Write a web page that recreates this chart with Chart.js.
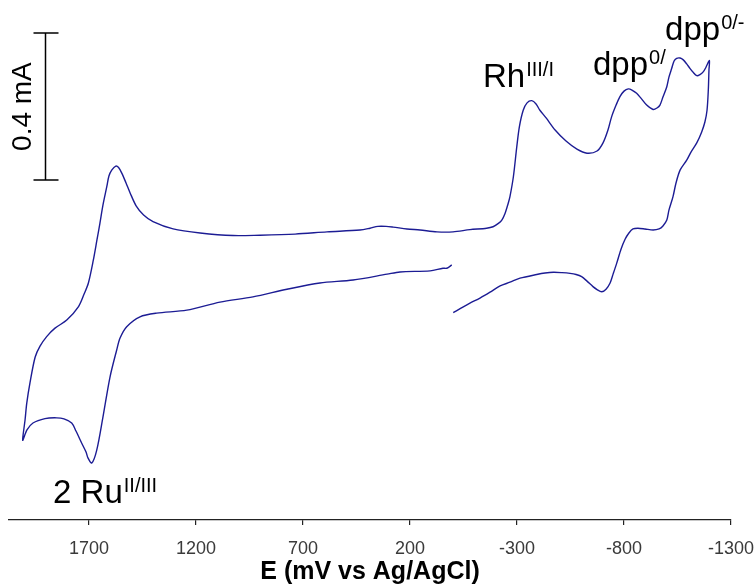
<!DOCTYPE html>
<html>
<head>
<meta charset="utf-8">
<script src="https://cdn.jsdelivr.net/npm/chart.js@4.4.0/dist/chart.umd.min.js"></script>
<style>
  html, body { margin: 0; padding: 0; background: #fff; }
</style>
</head>
<body>
<canvas id="cv" width="755" height="587"></canvas>
<script>
// Cyclic voltammogram, potential in mV vs Ag/AgCl, current in mA.
// Scan starts near 0 mV, goes anodic to +2000, back to -1200, then returns to 0.
const sweepOutE = [5, 28, 46, 106, 247, 307, 466, 621, 775, 934, 1088, 1243, 1384, 1462, 1524, 1555, 1571, 1602, 1635, 1664, 1687, 1705, 1714, 1734, 1761, 1781, 1817, 1851, 1906, 1962, 1990, 2010];
const sweepOutI = [-0.231, -0.240, -0.240, -0.247, -0.250, -0.256, -0.272, -0.280, -0.297, -0.318, -0.332, -0.354, -0.362, -0.372, -0.399, -0.430, -0.463, -0.536, -0.645, -0.735, -0.770, -0.756, -0.740, -0.716, -0.683, -0.661, -0.650, -0.647, -0.649, -0.661, -0.680, -0.708];

const sweepCathE = [1999, 1991, 1976, 1952, 1929, 1898, 1859, 1804, 1750, 1723, 1703, 1680, 1663, 1649, 1635, 1617, 1607, 1594, 1575, 1562, 1547, 1527, 1508, 1480, 1445, 1401, 1307, 1181, 1027, 901, 737, 588, 434, 387, 350, 312, 279, 214, 153, 74, -1, -80, -158, -188, -213, -229, -244, -258, -267, -283, -299, -311, -329, -347, -369, -389, -407, -436, -478, -529, -580, -627, -674, -702, -725, -742, -763, -781, -800, -820, -837, -859, -879, -906, -936, -954, -968, -982, -1000, -1010, -1023, -1034, -1046, -1062, -1077, -1093, -1108, -1122, -1140, -1155, -1171, -1183, -1199];
const sweepCathI = [-0.653, -0.607, -0.552, -0.482, -0.452, -0.426, -0.403, -0.381, -0.345, -0.310, -0.280, -0.218, -0.163, -0.117, -0.068, -0.018, 0.011, 0.027, 0.038, 0.034, 0.019, -0.008, -0.035, -0.070, -0.095, -0.113, -0.133, -0.144, -0.151, -0.150, -0.147, -0.141, -0.136, -0.131, -0.126, -0.126, -0.128, -0.133, -0.136, -0.141, -0.141, -0.135, -0.131, -0.127, -0.118, -0.109, -0.091, -0.065, -0.045, 0.009, 0.091, 0.145, 0.190, 0.210, 0.216, 0.207, 0.190, 0.169, 0.136, 0.106, 0.084, 0.073, 0.079, 0.101, 0.136, 0.172, 0.204, 0.227, 0.242, 0.248, 0.245, 0.236, 0.223, 0.204, 0.192, 0.196, 0.204, 0.226, 0.254, 0.280, 0.304, 0.324, 0.331, 0.332, 0.327, 0.316, 0.304, 0.294, 0.284, 0.287, 0.295, 0.307, 0.325];

const sweepBackE = [-1197, -1194, -1188, -1178, -1163, -1140, -1113, -1093, -1062, -1043, -1029, -1010, -1000, -982, -964, -936, -898, -865, -842, -823, -805, -786, -766, -749, -735, -716, -696, -674, -655, -627, -602, -576, -548, -510, -470, -431, -392, -314, -267, -221, -174, -127, -80, -49, -2];
const sweepBackI = [0.299, 0.245, 0.190, 0.158, 0.131, 0.101, 0.076, 0.054, 0.027, -0.008, -0.045, -0.082, -0.109, -0.125, -0.133, -0.136, -0.133, -0.131, -0.133, -0.144, -0.161, -0.188, -0.226, -0.256, -0.280, -0.297, -0.304, -0.298, -0.290, -0.275, -0.263, -0.257, -0.254, -0.252, -0.251, -0.253, -0.257, -0.267, -0.278, -0.288, -0.305, -0.321, -0.335, -0.345, -0.361];

const tickValues = [-1300, -800, -300, 200, 700, 1200, 1700];

const peakLabels = [
    { text: 'Rh', sup: 'III/I', E: -141, I: 0.253 },
    { text: 'dpp', sup: '0/', E: -655, I: 0.286 },
    { text: 'dpp', sup: '0/-', E: -992, I: 0.381 },
    { text: '2 Ru', sup: 'II/III', E: 1868, I: -0.878 }
];

// current scale bar: 0.4 mA starting at 0
const scaleBar = { E: 1905, from: 0, size: 0.4, label: '0.4 mA' };

const FONT = 'Liberation Sans, Arial, Helvetica, sans-serif';

function buildPoints() {
    const E = sweepOutE.concat(sweepCathE, sweepBackE);
    const I = sweepOutI.concat(sweepCathI, sweepBackI);
    return E.map((e, i) => ({ x: e, y: I[i] }));
}

const overlay = {
    id: 'overlay',
    afterDatasetsDraw(chart) {
        const { ctx, scales: { x, y } } = chart;
        ctx.save();
        ctx.fillStyle = '#000';
        ctx.textBaseline = 'alphabetic';
        ctx.textAlign = 'left';
        peakLabels.forEach(p => {
            const px = x.getPixelForValue(p.E);
            const py = y.getPixelForValue(p.I);
            ctx.font = '33px ' + FONT;
            ctx.fillText(p.text, px, py);
            const w = ctx.measureText(p.text).width;
            ctx.font = '20px ' + FONT;
            ctx.fillText(p.sup, px + w + 1, py - 11);
        });

        // scale bar
        const bx = Math.round(x.getPixelForValue(scaleBar.E)) + 0.5;
        const y0 = y.getPixelForValue(scaleBar.from);
        const y1 = y.getPixelForValue(scaleBar.from + scaleBar.size);
        ctx.strokeStyle = '#000';
        ctx.lineWidth = 1.5;
        ctx.beginPath();
        ctx.moveTo(bx, y0); ctx.lineTo(bx, y1);
        ctx.moveTo(bx - 12, y0); ctx.lineTo(bx + 13, y0);
        ctx.moveTo(bx - 12, y1); ctx.lineTo(bx + 13, y1);
        ctx.stroke();

        ctx.translate(bx - 22, (y0 + y1) / 2);
        ctx.rotate(-Math.PI / 2);
        ctx.textAlign = 'center';
        ctx.textBaseline = 'middle';
        ctx.font = '28px ' + FONT;
        ctx.fillText(scaleBar.label, 0, 0);
        ctx.restore();
    }
};

new Chart(document.getElementById('cv'), {
    type: 'scatter',
    data: {
        datasets: [{
            data: buildPoints(),
            showLine: true,
            borderColor: '#1c1c94',
            borderWidth: 1.4,
            pointRadius: 0,
            tension: 0.3,
            fill: false
        }]
    },
    options: {
        responsive: false,
        animation: false,
        devicePixelRatio: 1,
        layout: { padding: { left: 9, right: 24, top: 11, bottom: 0 } },
        plugins: {
            legend: { display: false },
            tooltip: { enabled: false }
        },
        scales: {
            x: {
                type: 'linear',
                reverse: true,
                min: -1300,
                max: 2074,
                afterBuildTicks: (scale) => {
                    scale.ticks = tickValues.map(v => ({ value: v }));
                },
                afterFit: (scale) => { scale.height = 67; },
                border: { display: true, color: '#222', width: 1.2 },
                grid: { display: true, drawOnChartArea: false, drawTicks: true, tickLength: 5, color: '#222', lineWidth: 1.2 },
                ticks: {
                    padding: 13,
                    color: '#3a3a3a',
                    autoSkip: false,
                    maxRotation: 0,
                    font: { family: FONT, size: 18 },
                    callback: (v) => String(v)
                },
                title: {
                    display: true,
                    text: 'E (mV vs Ag/AgCl)',
                    color: '#000',
                    font: { family: FONT, size: 25, weight: 'bold' },
                    padding: { top: 0, bottom: 0 }
                }
            },
            y: {
                display: false,
                min: -0.925,
                max: 0.46
            }
        }
    },
    plugins: [overlay]
});
</script>
</body>
</html>
